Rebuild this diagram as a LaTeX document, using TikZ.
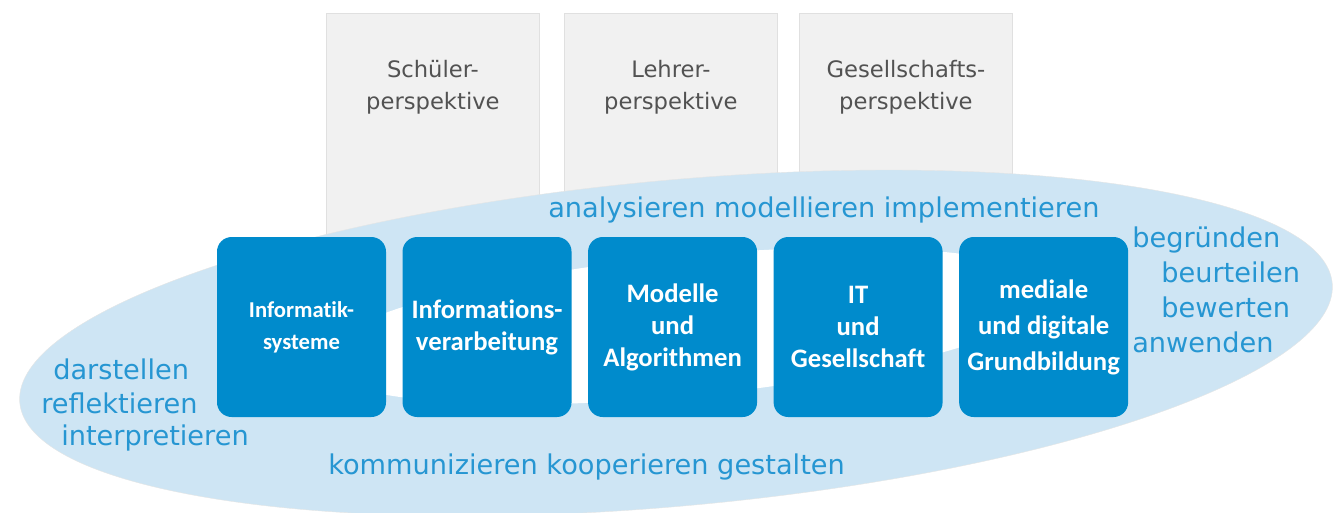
\documentclass[tikz,border=0pt]{standalone}
\usepackage{fontspec}
\setmainfont{DejaVu Sans}
\newfontfamily\boxfont{Carlito}[Ligatures=NoCommon]
\usetikzlibrary{positioning}
\definecolor{kompblau}{RGB}{0,139,204}
\definecolor{ellblau}{RGB}{206,229,244}
\definecolor{textblau}{RGB}{38,150,210}
\definecolor{perspgrau}{RGB}{241,241,241}

\begin{document}
\begin{tikzpicture}[x=0.75pt,y=0.75pt,
   persp/.style={draw=black!12,fill=perspgrau,minimum width=160pt,minimum height=170pt,inner sep=0pt,anchor=north west},
   persptext/.style={align=center,text=black!68,font=\fontsize{17}{24}\selectfont},
   bereich/.style={fill=kompblau,rounded corners=11pt,minimum width=126.75pt,minimum height=135pt,inner sep=0pt,align=center,text=white,font=\boxfont\bfseries\fontsize{20}{24}\selectfont},
   proz/.style={text=textblau,font=\fontsize{20.4}{25}\selectfont,inner sep=0pt,anchor=base west}]

\useasboundingbox (0,0) rectangle (1337,-512);

% Perspektiven
\node [persp] (schueler) at (326,-13) {};
\node [persp] (lehrer) at (564,-13) {};
\node [persp] (gesell) at (799,-13) {};
\node [persptext] (schuelertxt) at ([yshift=-56pt]schueler.north) {Schüler-\\perspektive};
\node [persptext] (lehrertxt) at ([yshift=-56pt]lehrer.north) {Lehrer-\\perspektive};
\node [persptext] (geselltxt) at ([yshift=-56pt]gesell.north) {Gesellschafts-\\perspektive};

% Ellipse
\fill [ellblau,draw=black!10,line width=0.3pt,rotate around={5.2:(676,-343)}] (676,-343) ellipse [x radius=494.25pt,y radius=122.25pt];
\fill [white,rotate around={5.5:(685,-326)}] (685,-326) ellipse [x radius=277.5pt,y radius=52.5pt];

% Inhaltsbereiche
\node [bereich,font=\boxfont\bfseries\fontsize{17}{24}\selectfont] (sys) at (301.5,-327) {Informatik-\\systeme};
\node [bereich,right=12pt of sys] (verarb) {Informations-\\verarbeitung};
\node [bereich,right=12pt of verarb] (modalg) {Modelle\\und\\Algorithmen};
\node [bereich,right=12pt of modalg] (itges) {IT\\und\\Gesellschaft};
\node [bereich,right=12pt of itges,font=\boxfont\bfseries\fontsize{20}{27}\selectfont] (medial) {mediale\\und digitale\\Grundbildung};

% Prozessbereiche
\node [proz] (analys) at (548,-217) {analysieren modellieren implementieren};
\node [proz] (kommun) at (328,-474) {kommunizieren kooperieren gestalten};
\node [proz] (darst) at (53,-379) {darstellen};
\node [proz] (reflek) at (41,-413) {reflektieren};
\node [proz] (interp) at (61,-445) {interpretieren};
\node [proz] (begr) at (1132,-247) {begründen};
\node [proz] (beurt) at (1161,-282) {beurteilen};
\node [proz] (bewert) at (1161,-317) {bewerten};
\node [proz] (anwend) at (1132,-352) {anwenden};

\end{tikzpicture}
\end{document}
